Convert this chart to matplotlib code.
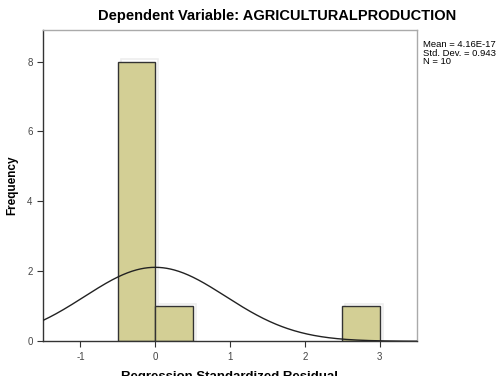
import matplotlib
matplotlib.use("Agg")
import matplotlib.pyplot as plt
import numpy as np

bin_edges = [-0.5, 0.0, 0.5, 1.0, 1.5, 2.0, 2.5, 3.0]
counts = [8, 1, 0, 0, 0, 0, 1]
mean = 4.16e-17
std = 0.943
n = 10
xticks = [-1, 0, 1, 2, 3]
yticks = [0, 2, 4, 6, 8]

plt.rcParams['font.family'] = ['Liberation Sans', 'DejaVu Sans']
plt.rcParams['axes.unicode_minus'] = False

fig = plt.figure(figsize=(4.97, 3.76), dpi=100)
ax = fig.add_axes([0.0865, 0.0923, 0.7525, 0.8277])

lefts = bin_edges[:-1]
widths = np.diff(bin_edges)
for l, w, c in zip(lefts, widths, counts):
    if c > 0:
        ax.bar(l + 0.04, c + 0.08, width=w, align='edge', color='none', edgecolor='#eeeeee',
               linewidth=1.2, zorder=1)
        ax.bar(l, c, width=w, align='edge', color='#d3cf95', edgecolor='#333333', linewidth=1.0, zorder=2)

xs = np.linspace(-1.5, 3.5, 400)
bw = widths[0]
ys = n * bw / (std * np.sqrt(2 * np.pi)) * np.exp(-0.5 * ((xs - mean) / std) ** 2)
ax.plot(xs, ys, color='#222222', linewidth=1.0, zorder=3)

ax.set_xlim(-1.5, 3.5)
ax.set_ylim(0, 8.9)
ax.set_xticks(xticks)
ax.set_yticks(yticks)
ax.tick_params(labelsize=7, length=4, width=0.8, colors='#333333', labelcolor='#444444')
for s in ['left', 'bottom']:
    ax.spines[s].set_color('#333333')
    ax.spines[s].set_linewidth(1.0)
for s in ['top', 'right']:
    ax.spines[s].set_color('#aaaaaa')
    ax.spines[s].set_linewidth(1.0)

ax.set_xlabel('Regression Standardized Residual', fontsize=9.5, fontweight='bold', labelpad=7)
ax.set_ylabel('Frequency', fontsize=8.5, fontweight='bold', labelpad=6)

fig.text(0.557, 0.957, 'Dependent Variable: AGRICULTURALPRODUCTION', ha='center', va='center',
         fontsize=10.5, fontweight='bold')
fig.text(0.50, 1.02, 'Histogram', ha='center', va='center', fontsize=10, fontweight='bold')

fig.text(0.852, 0.893, 'Mean = 4.16E-17\nStd. Dev. = 0.943\nN = 10', ha='left', va='top',
         fontsize=6.8, linespacing=0.92)

fig.savefig('out.png', dpi=100)
